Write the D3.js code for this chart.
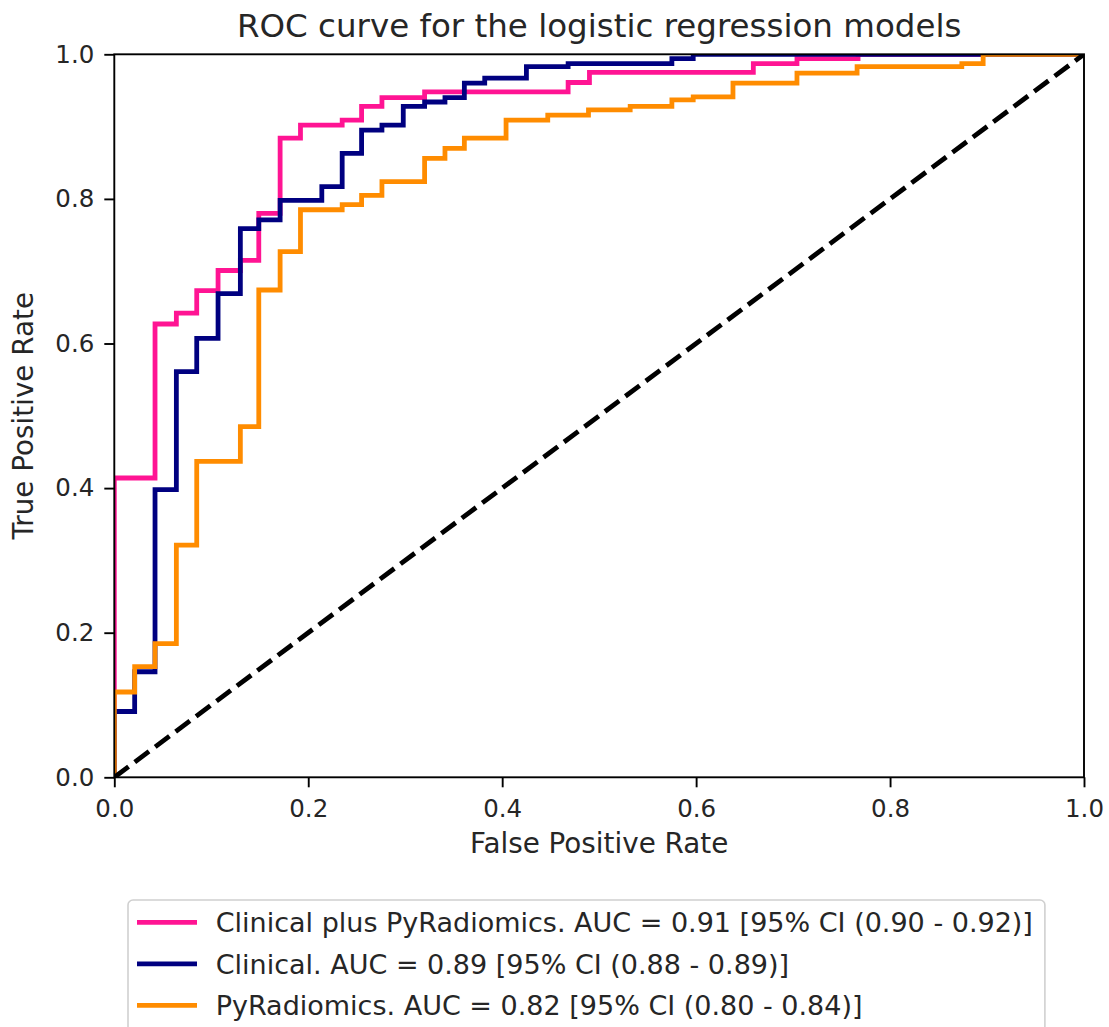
<!DOCTYPE html>
<html>
<head>
<meta charset="utf-8">
<script src="https://cdn.jsdelivr.net/npm/d3@7"></script>
<style>
  body { margin: 0; background: #fff; }
  text { font-family: "DejaVu Sans", sans-serif; fill: #262626; }
</style>
</head>
<body>
<div id="roc-container"></div>
<script>
const FIG_W = 1109, FIG_H = 1027;
const MARGIN = { top: 54.3, left: 114.3 };
const PLOT_W = 969.7, PLOT_H = 723;

// ROC points (step corners)
const combinedFpr = [0, 0, 0.042, 0.064, 0.085, 0.107, 0.130, 0.149, 0.171, 0.192, 0.235, 0.255, 0.276, 0.320, 0.468, 0.490, 0.659, 0.704, 0.767, 1];
const combinedTpr = [0, 0.414, 0.627, 0.642, 0.673, 0.701, 0.715, 0.780, 0.884, 0.902, 0.909, 0.928, 0.940, 0.948, 0.961, 0.975, 0.987, 0.994, 1, 1];

const clinicalFpr = [0, 0, 0.021, 0.042, 0.064, 0.085, 0.107, 0.130, 0.149, 0.171, 0.214, 0.235, 0.255, 0.276, 0.298, 0.320, 0.341, 0.361, 0.382, 0.425, 0.468, 0.575, 0.597, 1];
const clinicalTpr = [0, 0.091, 0.146, 0.398, 0.561, 0.607, 0.669, 0.759, 0.771, 0.798, 0.817, 0.863, 0.895, 0.902, 0.928, 0.934, 0.940, 0.960, 0.967, 0.983, 0.987, 0.994, 1, 1];

const radiomicsFpr = [0, 0, 0.021, 0.042, 0.064, 0.085, 0.130, 0.149, 0.171, 0.192, 0.235, 0.255, 0.276, 0.320, 0.341, 0.361, 0.404, 0.447, 0.489, 0.532, 0.575, 0.597, 0.638, 0.704, 0.766, 0.874, 0.896, 1];
const radiomicsTpr = [0, 0.118, 0.153, 0.185, 0.321, 0.437, 0.485, 0.674, 0.727, 0.785, 0.792, 0.805, 0.824, 0.856, 0.870, 0.884, 0.909, 0.916, 0.923, 0.928, 0.937, 0.941, 0.960, 0.974, 0.983, 0.987, 1, 1];

const chanceFpr = [0, 1];
const chanceTpr = [0, 1];

const seriesNames = [
    "Clinical plus PyRadiomics. AUC = 0.91 [95% CI (0.90 - 0.92)]",
    "Clinical. AUC = 0.89 [95% CI (0.88 - 0.89)]",
    "PyRadiomics. AUC = 0.82 [95% CI (0.80 - 0.84)]"
];
const seriesColors = ["#ff1493", "#000080", "#ff8c00"];
const tickValues = [0, 0.2, 0.4, 0.6, 0.8, 1.0];

const TITLE = "ROC curve for the logistic regression models";
const X_LABEL = "False Positive Rate", Y_LABEL = "True Positive Rate";

const series = [
    { name: seriesNames[0], color: seriesColors[0], pts: combinedFpr.map((x, i) => ({ x: x, y: combinedTpr[i] })) },
    { name: seriesNames[1], color: seriesColors[1], pts: clinicalFpr.map((x, i) => ({ x: x, y: clinicalTpr[i] })) },
    { name: seriesNames[2], color: seriesColors[2], pts: radiomicsFpr.map((x, i) => ({ x: x, y: radiomicsTpr[i] })) }
];

const svg = d3.select("#roc-container")
    .append("svg")
    .attr("width", FIG_W)
    .attr("height", FIG_H);

const plot = svg.append("g").attr("transform", "translate(" + MARGIN.left + "," + MARGIN.top + ")");

let xScale = d3.scaleLinear().domain([0, 1]).range([0, PLOT_W]);
let yScale = d3.scaleLinear().domain([0, 1]).range([PLOT_H, 0]);

plot.append("clipPath").attr("id", "plot-clip")
    .append("rect").attr("width", PLOT_W).attr("height", PLOT_H);

const stepLine = d3.line()
    .x(d => xScale(d.x))
    .y(d => yScale(d.y))
    .curve(d3.curveStepAfter);

const lines = plot.append("g").attr("clip-path", "url(#plot-clip)");
series.forEach(s => {
    lines.append("path")
        .datum(s.pts)
        .attr("d", stepLine)
        .attr("stroke", s.color)
        .style("stroke-width", 4.8)
        .style("fill", "none");
});

// chance diagonal
lines.append("path")
    .datum(chanceFpr.map((x, i) => ({ x: x, y: chanceTpr[i] })))
    .attr("d", d3.line().x(d => xScale(d.x)).y(d => yScale(d.y)))
    .attr("stroke", "#000")
    .attr("stroke-dasharray", "17.8,7.7")
    .style("stroke-width", 4.8)
    .style("fill", "none");

// axes
const fmt = d3.format(".1f");
const xAx = plot.append("g")
    .attr("class", "xaxis")
    .attr("transform", "translate(0," + PLOT_H + ")")
    .call(d3.axisBottom(xScale).tickValues(tickValues).tickFormat(fmt).tickSize(10).tickPadding(12).tickSizeOuter(0));
const yAx = plot.append("g")
    .attr("class", "yaxis")
    .call(d3.axisLeft(yScale).tickValues(tickValues).tickFormat(fmt).tickSize(10).tickPadding(10).tickSizeOuter(0));
[xAx, yAx].forEach(a => {
    a.select(".domain").remove();
    a.selectAll("line").attr("stroke", "#000").style("stroke-width", 1.9);
    a.selectAll("text").style("font-size", "24.5px").style("font-family", "DejaVu Sans").attr("fill", "#262626");
});

// frame
plot.append("rect")
    .attr("width", PLOT_W).attr("height", PLOT_H)
    .attr("fill", "none").attr("stroke", "#000").style("stroke-width", 1.9);

// labels
svg.append("text")
    .attr("x", MARGIN.left + PLOT_W / 2).attr("y", 37)
    .attr("text-anchor", "middle")
    .style("font-size", "32.5px")
    .text(TITLE);
svg.append("text")
    .attr("x", MARGIN.left + PLOT_W / 2).attr("y", 853)
    .attr("text-anchor", "middle")
    .style("font-size", "27.8px")
    .text(X_LABEL);
svg.append("text")
    .attr("transform", "translate(33," + (MARGIN.top + PLOT_H / 2) + ") rotate(-90)")
    .attr("text-anchor", "middle")
    .style("font-size", "27.8px")
    .text(Y_LABEL);

// legend
const LEG = { x: 128, y: 900, row: 41.5, fs: 27 };
const legend = svg.append("g").attr("transform", "translate(" + LEG.x + "," + LEG.y + ")");
const legBox = legend.append("rect")
    .attr("rx", 5).attr("ry", 5)
    .attr("fill", "#fff").attr("fill-opacity", 0.8)
    .attr("stroke", "#d0d0d0").style("stroke-width", 1.6);
let textRight = 0;
series.forEach((s, i) => {
    const cy = 22.3 + i * LEG.row;
    legend.append("line")
        .attr("x1", 9).attr("x2", 69).attr("y1", cy).attr("y2", cy)
        .attr("stroke", s.color).style("stroke-width", 4.8);
    const t = legend.append("text")
        .attr("x", 87.7).attr("y", cy).attr("dy", "0.36em")
        .style("font-size", LEG.fs + "px")
        .text(s.name);
    textRight = Math.max(textRight, 87.7 + t.node().getComputedTextLength());
});
legBox.attr("width", textRight + 12).attr("height", 22.3 + 2 * LEG.row + 26);
</script>
</body>
</html>
